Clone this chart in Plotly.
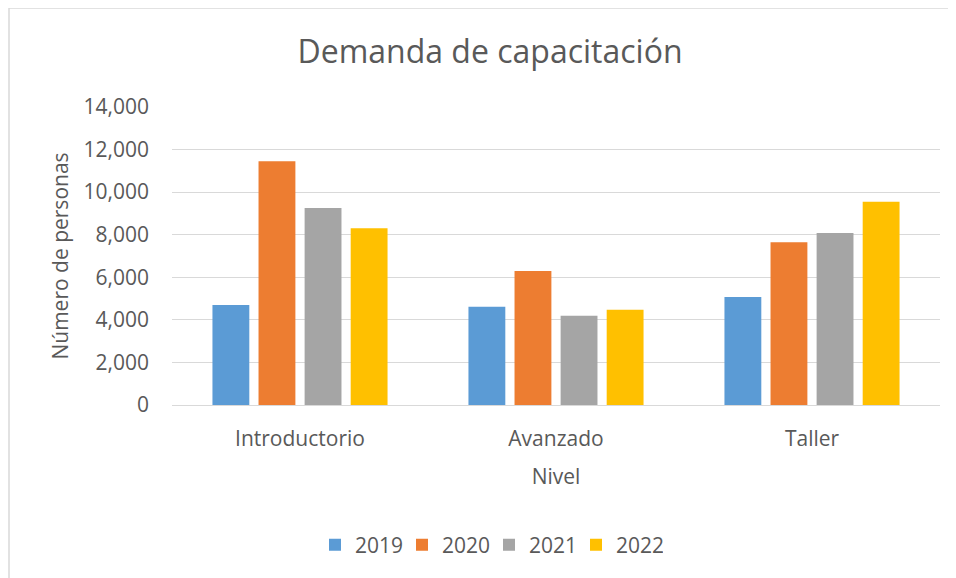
import plotly.graph_objects as go

niveles = ["Introductorio", "Avanzado", "Taller"]
anios = ["2019", "2020", "2021", "2022"]
v2019 = [4700, 4620, 5070]
v2020 = [11450, 6300, 7650]
v2021 = [9250, 4190, 8080]
v2022 = [8300, 4470, 9550]
colores = ["#5B9BD5", "#ED7D31", "#A5A5A5", "#FFC000"]
y_ticks = [0, 2000, 4000, 6000, 8000, 10000, 12000, 14000]

series = [v2019, v2020, v2021, v2022]
FONT = "Open Sans"
TXT = "#595959"
W, H = 948, 570  # page body has an 8px margin

fig = go.Figure()
for name, vals, col in zip(anios, series, colores):
    fig.add_trace(go.Bar(x=niveles, y=vals, name=name, marker=dict(color=col, line=dict(width=0))))

fig.update_layout(
    width=W, height=H,
    margin=dict(l=164, r=16, t=99, b=173),
    paper_bgcolor="white", plot_bgcolor="white",
    barmode="group", bargap=0.28, bargroupgap=0.2,
    font=dict(family=FONT, size=21, color=TXT),
    title=dict(text="Demanda de capacitación", x=482 / W, xanchor="center",
               y=1 - 44 / H, yanchor="middle",
               font=dict(family=FONT, size=32, color=TXT)),
    legend=dict(orientation="h", xref="container", x=481 / W, xanchor="center",
                yref="container", y=1 - 537 / H, yanchor="middle",
                font=dict(family=FONT, size=21, color=TXT), itemwidth=30,
                entrywidth=42, entrywidthmode="pixels"),
    showlegend=True,
)
fig.update_yaxes(range=[0, 14000], tickvals=y_ticks, tickformat=",",
                 showgrid=True, gridcolor="#D9D9D9", gridwidth=1,
                 zeroline=True, zerolinecolor="#D9D9D9", zerolinewidth=1,
                 showline=False, ticks="", ticklabelstandoff=22,
                 title=dict(text="Número de personas", standoff=9,
                            font=dict(family=FONT, size=21, color=TXT)))
fig.update_xaxes(showgrid=False, showline=False, ticks="", ticklabelstandoff=19,
                 title=dict(text="Nivel", standoff=18,
                            font=dict(family=FONT, size=21, color=TXT)))

fig.add_shape(type="rect", xref="paper", yref="paper",
              x0=(1 - 164) / 768, x1=1.6, y0=-1.0, y1=(397 - 0) / 298,
              line=dict(color="#D9D9D9", width=1.5), fillcolor="rgba(0,0,0,0)", layer="below")

fig.write_html("out.html")
